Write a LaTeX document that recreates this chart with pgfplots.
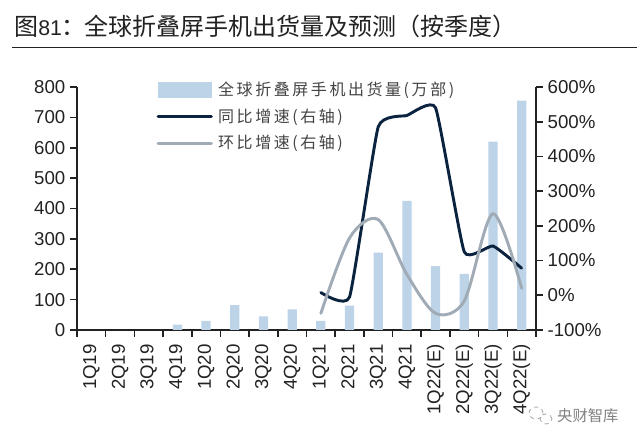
\documentclass[border=0pt]{standalone}
\usepackage{fontspec}
\usepackage{pgfplots}
\pgfplotsset{compat=1.18}
\setmainfont{Liberation Sans}
\newfontfamily\cjk{Noto Sans CJK SC}
\newfontfamily\cjkleg[LetterSpace=16]{Noto Sans CJK SC}
\newfontfamily\latn{Liberation Sans}
\definecolor{barc}{HTML}{BCD3E8}
\definecolor{navy}{HTML}{0C2340}
\definecolor{greyl}{HTML}{A0ABB6}
\definecolor{axc}{HTML}{222222}
\pgfplotsset{
 base/.style={
  scale only axis, width=344.25pt, height=182.25pt,
  xmin=0, xmax=16,
  axis line style={axc,line width=1.2pt},
  tick style={axc,line width=1.2pt},
  major tick length=5.2pt,
  tick align=outside,
  tick label style={font=\fontsize{14}{14}\selectfont,text=axc},
  /pgf/number format/assume math mode=true,
 }
}
\begin{document}
\begin{tikzpicture}
\path[use as bounding box] (0pt,0pt) rectangle (480pt,332.25pt);
\node[anchor=west,inner sep=0pt,text=axc] at (10.5pt,312.7pt) {\fontsize{18}{18}\selectfont\cjk 图{\fontsize{16}{16}\selectfont\latn 81}\char"FF1A\kern-1.5pt 全球折叠屏手机出货量及预测\char"FF08 按季度\char"FF09};
\draw[axc,line width=0.9pt] (9pt,296.6pt) -- (478pt,296.6pt);
\begin{axis}[base, at={(57.75pt,84.75pt)}, anchor=south west,
  axis x line*=bottom, axis y line*=left,
  ymin=0, ymax=800, ytick={0,100,...,800},
  xtick={0,...,16},
  x tick label as interval,
  xticklabels={1Q19,2Q19,3Q19,4Q19,1Q20,2Q20,3Q20,4Q20,1Q21,2Q21,3Q21,4Q21,1Q22(E),2Q22(E),3Q22(E),4Q22(E)},
  x tick label style={rotate=90,anchor=east,font=\fontsize{14}{14}\selectfont},
  xticklabel shift=2pt,
 ]
\addplot[ybar, bar width=6.9pt, fill=barc, draw=none, bar shift=0pt] coordinates {
 (3.5,18) (4.5,30) (5.5,82) (6.5,45) (7.5,68) (8.5,30) (9.5,80) (10.5,255)
 (11.5,425) (12.5,210) (13.5,185) (14.5,620) (15.5,755)};
\end{axis}
\begin{axis}[base, at={(57.75pt,84.75pt)}, anchor=south west,
  axis x line=none, axis y line*=right,
  ymin=-100, ymax=600, ytick={-100,0,...,600},
  yticklabel={\pgfmathprintnumber{\tick}\%},
  legend style={draw=none,fill=none,anchor=north west,
    at={(rel axis cs:0.164,1.045)},row sep=4.5pt,
    font=\fontsize{12}{12.5}\selectfont\cjkleg,text=axc!85,
    /tikz/every even column/.append style={column sep=3pt}},
  legend cell align=left,
 ]
\addlegendimage{legend image code/.code={\fill[barc] (0pt,-5.5pt) rectangle (40pt,5.5pt);}}
\addlegendentry{\hspace{2pt}全球折叠屏手机出货量(万部)}
\addplot[navy, line width=2.2pt, smooth, tension=0.25, line cap=round,
  legend image code/.code={\draw[navy,line width=2.2pt] (0pt,0pt) -- (40pt,0pt);}] coordinates {
 (8.5,8) (9.5,-5) (10.5,485) (11.5,518) (12.5,540) (13.5,125) (14.5,142) (15.5,78)};
\addlegendentry{\hspace{2pt}同比增速(右轴)}
\addplot[greyl, line width=2.2pt, smooth, tension=0.5, line cap=round,
  legend image code/.code={\draw[greyl,line width=2.2pt] (0pt,0pt) -- (40pt,0pt);}] coordinates {
 (8.5,-52) (9.5,165) (10.5,218) (11.5,60) (12.5,-52) (13.5,-16) (14.5,235) (15.5,20)};
\addlegendentry{\hspace{2pt}环比增速(右轴)}
\end{axis}
\node[anchor=west,inner sep=0pt,text=black!50] at (417.7pt,20.2pt) {\fontsize{11.5}{12}\selectfont\cjk 央财智库};
\draw[black!35,line width=0.6pt,dashed] (402pt,22.5pt) ellipse (5.2pt and 4.5pt);
\draw[black!35,line width=0.6pt,dashed] (409.5pt,18pt) ellipse (4.5pt and 3.7pt);
\end{tikzpicture}
\end{document}
